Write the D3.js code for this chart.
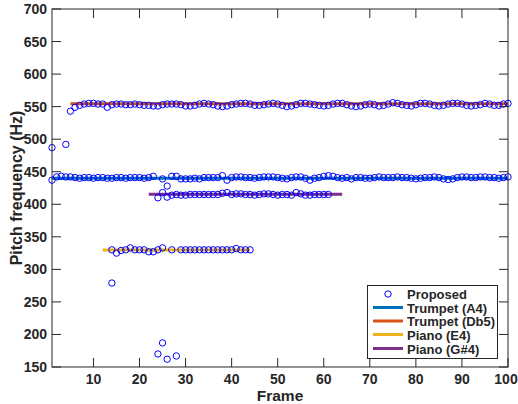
<!DOCTYPE html>
<html>
<head>
<meta charset="utf-8">
<script src="https://cdn.jsdelivr.net/npm/d3@7"></script>
<style>
  body { margin: 0; background: #fff; }
  text { font-family: "Liberation Sans", Arial, sans-serif; font-weight: bold; fill: #262626; }
</style>
</head>
<body>
<div id="chart"></div>
<script>
// estimated pitch per frame (null = no estimate on that track)
const a4Start = 1;
const a4Pitch = [
  437, 442, 443, 442, 442, 441, 440, 441, 441, 440,
  441, 441, 440, 440, 441, 441, 440, 441, 441, 441,
  440, 441, 443, null, 439, null, 443, 443, 439, 439,
  439, 440, 439, 441, 441, 441, 441, 444, 437, 441,
  442, 442, 441, 441, 440, 441, 442, 442, 442, 441,
  440, 439, 441, 442, 442, 440, 437, 440, 441, 443,
  444, 443, 441, 440, 441, 439, 441, 441, 440, 440,
  441, 442, 441, 441, 441, 442, 441, 441, 440, 439,
  440, 441, 441, 442, 441, 439, 438, 439, 441, 442,
  442, 441, 441, 442, 442, 441, 441, 440, 441, 442
];
const db5Start = 5;
const db5Pitch = [
  543, 549, 552, 554, 555, 555, 554, 554, 549, 553,
  554, 554, 553, 553, 554, 553, 552, 552, 551, 551,
  553, 554, 554, 554, 553, 551, 551, 552, 554, 555,
  554, 553, 551, 550, 551, 553, 554, 555, 555, 554,
  552, 552, 553, 554, 555, 554, 552, 550, 551, 553,
  555, 555, 554, 553, 552, 551, 552, 554, 555, 555,
  553, 551, 550, 551, 553, 554, 553, 551, 552, 554,
  556, 555, 553, 552, 551, 553, 555, 555, 554, 552,
  551, 552, 554, 555, 555, 554, 552, 551, 552, 553,
  555, 554, 552, 552, 554, 555
];
const e4Start = 14;
const e4Pitch = [
  330, 325, 329, 330, 333, 330, 330, 330, 327, 327,
  330, 333, null, 330, null, 330, 330, 330, 330, 330,
  330, 330, 330, 330, 330, 330, 330, 332, 330, 330, 330
];
const gs4Start = 24;
const gs4Pitch = [
  410, 418, 411, 414, 415, 414, 414, 415, 415, 415,
  415, 415, 415, 415, 417, 418, 415, 416, 416, 415,
  415, 414, 415, 416, 416, 415, 414, 415, 415, 414,
  418, 416, 414, 414, 415, 415, 415, 415
];
const strayFrames = [1, 4, 14, 24, 25, 26, 26, 28];
const strayPitch = [487, 492, 279, 170, 187, 162, 428, 167];

// ground-truth notes
const noteNames = ["Trumpet (A4)", "Trumpet (Db5)", "Piano (E4)", "Piano (G#4)"];
const notePitch = [440, 554.37, 329.63, 415.3];
const noteFrom = [1, 5, 12, 22];
const noteTo = [100, 100, 44, 64];
const noteColors = ["#0072BD", "#D95319", "#EDB120", "#7E2F8E"];

const xTicks = [10, 20, 30, 40, 50, 60, 70, 80, 90, 100];
const yTicks = [150, 200, 250, 300, 350, 400, 450, 500, 550, 600, 650, 700];

const width = 518, height = 404;
const x = d3.scaleLinear().domain([1, 100]).range([52, 508]);
const y = d3.scaleLinear().domain([150, 700]).range([367, 9]);

const svg = d3.select("#chart").append("svg")
  .attr("width", width).attr("height", height);
svg.append("rect").attr("width", width).attr("height", height).attr("fill", "#fff");

// collect circles
let pts = [];
function addTrack(start, vals) {
  vals.forEach((v, i) => { if (v !== null) pts.push({ f: start + i, p: v }); });
}
addTrack(a4Start, a4Pitch);
addTrack(db5Start, db5Pitch);
addTrack(e4Start, e4Pitch);
addTrack(gs4Start, gs4Pitch);
strayFrames.forEach((f, i) => pts.push({ f: f, p: strayPitch[i] }));

// note lines
svg.selectAll(".note").data(noteNames).enter().append("line")
  .attr("x1", (d, i) => x(noteFrom[i]))
  .attr("x2", (d, i) => x(noteTo[i]))
  .attr("y1", (d, i) => y(notePitch[i]))
  .attr("y2", (d, i) => y(notePitch[i]))
  .attr("stroke", (d, i) => noteColors[i])
  .attr("stroke-width", 3);

svg.selectAll(".pt").data(pts).enter().append("circle")
  .attr("cx", d => x(d.f)).attr("cy", d => y(d.p))
  .attr("r", 3.2).attr("fill", "none")
  .attr("stroke", "#0000ff").attr("stroke-width", 1);

// axes box
const axisG = svg.append("g");
axisG.append("rect")
  .attr("x", x(1)).attr("y", y(700))
  .attr("width", x(100) - x(1)).attr("height", y(150) - y(700))
  .attr("fill", "none").attr("stroke", "#262626").attr("stroke-width", 1);

const tl = 9;
xTicks.forEach(t => {
  axisG.append("line").attr("x1", x(t)).attr("x2", x(t))
    .attr("y1", y(150)).attr("y2", y(150) - tl).attr("stroke", "#262626");
  axisG.append("line").attr("x1", x(t)).attr("x2", x(t))
    .attr("y1", y(700)).attr("y2", y(700) + tl).attr("stroke", "#262626");
  // keep the last label inside the page
  const lx = Math.min(x(t), width - 12);
  axisG.append("text").attr("x", lx).attr("y", 383.5)
    .attr("text-anchor", "middle").style("font-size", "14px").text(t);
});
yTicks.forEach(t => {
  axisG.append("line").attr("x1", x(1)).attr("x2", x(1) + tl)
    .attr("y1", y(t)).attr("y2", y(t)).attr("stroke", "#262626");
  axisG.append("line").attr("x1", x(100)).attr("x2", x(100) - tl)
    .attr("y1", y(t)).attr("y2", y(t)).attr("stroke", "#262626");
  axisG.append("text").attr("x", 47).attr("y", y(t) + 5)
    .attr("text-anchor", "end").style("font-size", "14px").text(t);
});

svg.append("text").attr("x", 280).attr("y", 400.5)
  .attr("text-anchor", "middle").style("font-size", "15.5px").text("Frame");
svg.append("text")
  .attr("transform", `translate(22, ${(y(150) + y(700)) / 2}) rotate(-90)`)
  .attr("text-anchor", "middle").style("font-size", "16px").text("Pitch frequency (Hz)");

// legend
const lg = svg.append("g");
lg.append("rect").attr("x", 367.5).attr("y", 285.5).attr("width", 130).attr("height", 73)
  .attr("fill", "#fff").attr("stroke", "#262626").attr("stroke-width", 1);
const rowY = [294, 307.5, 321, 334.5, 348.5];
lg.append("circle").attr("cx", 388).attr("cy", rowY[0]).attr("r", 3.2)
  .attr("fill", "none").attr("stroke", "#0000ff");
lg.append("text").attr("x", 407).attr("y", rowY[0] + 5).style("font-size", "13px").text("Proposed");
noteNames.forEach((n, i) => {
  lg.append("line").attr("x1", 373).attr("x2", 403)
    .attr("y1", rowY[i + 1]).attr("y2", rowY[i + 1])
    .attr("stroke", noteColors[i]).attr("stroke-width", 3);
  lg.append("text").attr("x", 407).attr("y", rowY[i + 1] + 5)
    .style("font-size", "13px").text(n);
});
</script>
</body>
</html>
